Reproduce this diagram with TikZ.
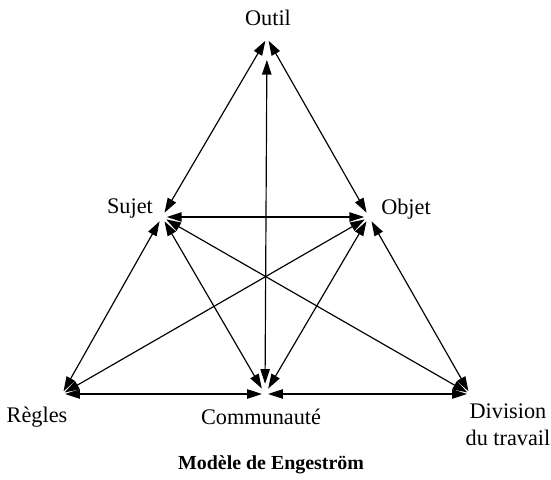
\documentclass[tikz,border=0pt]{standalone}
\usepackage{fontspec}
\setmainfont{Liberation Serif}
\usetikzlibrary{arrows.meta}
\tikzset{
  pt/.style={circle,inner sep=0pt,minimum size=5pt},
  hub/.style={rectangle,inner sep=0pt,minimum width=5pt,minimum height=17pt},
  lab/.style={font=\fontsize{19}{23}\selectfont,align=center,inner sep=0pt},
  title/.style={font=\fontsize{17}{20}\selectfont\bfseries,inner sep=0pt},
  ar/.style={{Triangle[length=12.5pt,width=8pt]}-{Triangle[length=12.5pt,width=8pt]},line width=1pt},
}
\begin{document}
\begin{tikzpicture}[x=0.03cm,y=-0.03cm]
  \useasboundingbox (0,0) rectangle (551,480);
  % apex points of the triangle
  \node[pt] (outil) at (267,38) {};
  \node[pt,minimum size=8pt] (sujet) at (162,217) {};
  \node[pt,minimum size=8pt] (objet) at (369,217) {};
  \node[pt] (regles) at (62,394) {};
  \node[hub] (comm) at (265,394) {};
  \node[pt] (div) at (470,394) {};
  % labels
  \node[lab] (toutil) at (268,18) {Outil};
  \node[lab] (tsujet) at (130,209) {Sujet};
  \node[lab] (tobjet) at (406,209) {Objet};
  \node[lab] (tregles) at (37,417) {Règles};
  \node[lab] (tcomm) at (261,417) {Communauté};
  \node[lab] (tdiv) at (508,425) {Division\\du travail};
  \node[title] (caption) at (271,465) {Modèle de Engeström};
  % connectors
  \draw[ar] (outil) -- (sujet);
  \draw[ar] (outil) -- (objet);
  \draw[ar,shorten <=16pt] (outil) -- (comm);
  \draw[ar] (sujet) -- (objet);
  \draw[ar] (sujet) -- (regles);
  \draw[ar] (sujet) -- (comm);
  \draw[ar] (sujet) -- (div);
  \draw[ar] (objet) -- (regles);
  \draw[ar] (objet) -- (comm);
  \draw[ar] (objet) -- (div);
  \draw[ar] (regles) -- (comm);
  \draw[ar] (comm) -- (div);
\end{tikzpicture}
\end{document}
